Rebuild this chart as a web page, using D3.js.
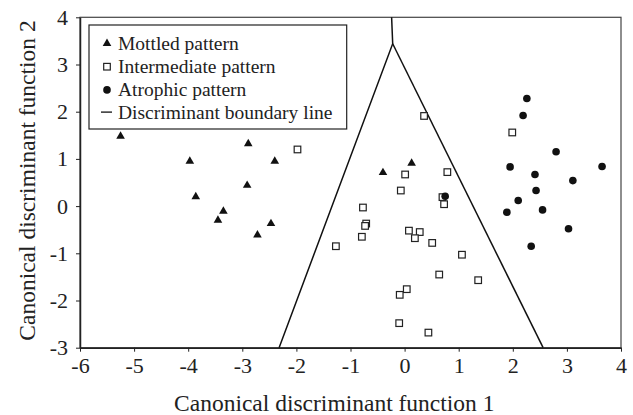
<!DOCTYPE html>
<meta charset="utf-8">
<style>
  body { margin: 0; background: #fff; }
  text { font-family: "Liberation Serif", "Times New Roman", serif; fill: #222; }
</style>
<script src="https://d3js.org/d3.v7.min.js"></script>
<div id="my_dataviz"></div>
<script>

// data
var mottledX = [-5.25, -2.89, -3.97, -2.40, -2.91, -3.86, -3.35, -3.45, -2.47, -2.72, -0.40, 0.13];
var mottledY = [1.49, 1.33, 0.96, 0.96, 0.45, 0.21, -0.10, -0.29, -0.36, -0.60, 0.72, 0.92];

var intermX = [-1.98, 0.36, 0.01, 0.79, -0.07, 0.70, 0.73, -0.77, -0.71, -0.73, -0.79, -1.27,
               0.08, 0.28, 0.19, 0.51, 1.06, 0.64, 1.36, 0.04, -0.09, -0.10, 0.44, 1.99];
var intermY = [1.20, 1.91, 0.67, 0.72, 0.33, 0.19, 0.04, -0.03, -0.37, -0.42, -0.65, -0.85,
               -0.52, -0.55, -0.68, -0.78, -1.03, -1.45, -1.57, -1.76, -1.88, -2.48, -2.68, 1.56];

var atrophicX = [2.26, 2.19, 2.80, 1.95, 3.65, 2.41, 3.11, 2.43, 2.10, 1.89, 2.55, 3.03, 2.34, 0.75];
var atrophicY = [2.28, 1.92, 1.15, 0.83, 0.84, 0.67, 0.54, 0.33, 0.12, -0.13, -0.08, -0.48, -0.85, 0.21];

// boundary: vertical stub on top, then two arms down to the x axis
var boundaryX = [-0.24, -0.22, -2.32];
var boundaryY = [4, 3.44, -3];
var boundary2X = [-0.22, 2.56];
var boundary2Y = [3.44, -3];

var xTicks = [-6, -5, -4, -3, -2, -1, 0, 1, 2, 3, 4];
var yTicks = [-3, -2, -1, 0, 1, 2, 3, 4];
var legendLabels = ["Mottled pattern", "Intermediate pattern", "Atrophic pattern", "Discriminant boundary line"];

var W = 633, H = 415;
var margin = {top: 17.3, right: 12, bottom: 67.3, left: 80},
    width = W - margin.left - margin.right,
    height = H - margin.top - margin.bottom;

var svg = d3.select("#my_dataviz")
  .append("svg")
    .attr("width", W)
    .attr("height", H)
  .append("g")
    .attr("transform", "translate(" + margin.left + "," + margin.top + ")");

var x = d3.scaleLinear().domain([-6, 4]).range([0, width]);
var y = d3.scaleLinear().domain([-3, 4]).range([height, 0]);

// plain hyphen for negatives, like the original
var fmt = function(d) { return String(d); };

// frame
svg.append("rect")
  .attr("width", width).attr("height", height)
  .attr("fill", "none").attr("stroke", "#444").attr("stroke-width", 1.2);

// axes
var xAxis = svg.append("g")
  .attr("transform", "translate(0," + height + ")")
  .call(d3.axisBottom(x).tickValues(xTicks).tickFormat(fmt).tickSize(4).tickSizeOuter(0).tickPadding(6));
var yAxis = svg.append("g")
  .call(d3.axisLeft(y).tickValues(yTicks).tickFormat(fmt).tickSize(4).tickSizeOuter(0).tickPadding(8));

[xAxis, yAxis].forEach(function(a) {
  a.select(".domain").attr("stroke", "#222").attr("stroke-width", 1.5);
  a.selectAll(".tick line").attr("stroke", "#222");
  a.selectAll(".tick text")
    .style("font-family", "'Liberation Serif', 'Times New Roman', serif")
    .style("font-size", "22px").attr("fill", "#222");
});

// axis titles
svg.append("text")
  .attr("text-anchor", "middle")
  .attr("x", x(-1.3))
  .attr("y", height + 63)
  .style("font-size", "23.5px")
  .text("Canonical discriminant function 1");

svg.append("text")
  .attr("text-anchor", "middle")
  .attr("transform", "translate(" + (-45) + "," + (y(0.5) - 2) + ") rotate(-90)")
  .style("font-size", "23.5px")
  .text("Canonical discriminant function 2");

// boundary lines
var line = d3.line().x(function(d) { return x(d[0]); }).y(function(d) { return y(d[1]); });
svg.append("path")
  .datum(d3.zip(boundaryX, boundaryY))
  .attr("d", line).attr("fill", "none").attr("stroke", "#111").attr("stroke-width", 1.5);
svg.append("path")
  .datum(d3.zip(boundary2X, boundary2Y))
  .attr("d", line).attr("fill", "none").attr("stroke", "#111").attr("stroke-width", 1.5);

// markers
var tri = d3.symbol().type(d3.symbolTriangle).size(32);
svg.selectAll(".mot")
  .data(d3.zip(mottledX, mottledY))
  .enter().append("path")
    .attr("class", "mot")
    .attr("d", tri)
    .attr("transform", function(d) { return "translate(" + x(d[0]) + "," + (y(d[1]) + 0.5) + ")"; })
    .attr("fill", "#111");

svg.selectAll(".int")
  .data(d3.zip(intermX, intermY))
  .enter().append("rect")
    .attr("class", "int")
    .attr("x", function(d) { return x(d[0]) - 3.3; })
    .attr("y", function(d) { return y(d[1]) - 3.3; })
    .attr("width", 6.6).attr("height", 6.6)
    .attr("fill", "#fff").attr("stroke", "#222").attr("stroke-width", 1.2);

svg.selectAll(".atr")
  .data(d3.zip(atrophicX, atrophicY))
  .enter().append("circle")
    .attr("class", "atr")
    .attr("cx", function(d) { return x(d[0]); })
    .attr("cy", function(d) { return y(d[1]); })
    .attr("r", 3.8)
    .attr("fill", "#111");

// legend
var lg = svg.append("g").attr("transform", "translate(" + (89 - margin.left) + "," + (25 - margin.top) + ")");
lg.append("rect")
  .attr("width", 257.7).attr("height", 104)
  .attr("fill", "#fff").attr("stroke", "#222").attr("stroke-width", 1.2);

var rowY = function(i) { return 24.5 + i * 23.2; };
lg.append("path").attr("d", tri).attr("fill", "#111")
  .attr("transform", "translate(18," + (rowY(0) - 6) + ")");
lg.append("rect").attr("x", 14.7).attr("y", rowY(1) - 9.3).attr("width", 6.6).attr("height", 6.6)
  .attr("fill", "#fff").attr("stroke", "#222").attr("stroke-width", 1.2);
lg.append("circle").attr("cx", 18).attr("cy", rowY(2) - 6).attr("r", 3.8).attr("fill", "#111");
lg.append("line").attr("x1", 12).attr("x2", 23).attr("y1", rowY(3) - 7).attr("y2", rowY(3) - 7)
  .attr("stroke", "#111").attr("stroke-width", 1.3);

lg.selectAll(".ltext")
  .data(legendLabels)
  .enter().append("text")
    .attr("class", "ltext")
    .attr("x", 29)
    .attr("y", function(d, i) { return rowY(i); })
    .style("font-size", "19.5px")
    .text(function(d) { return d; });

</script>
